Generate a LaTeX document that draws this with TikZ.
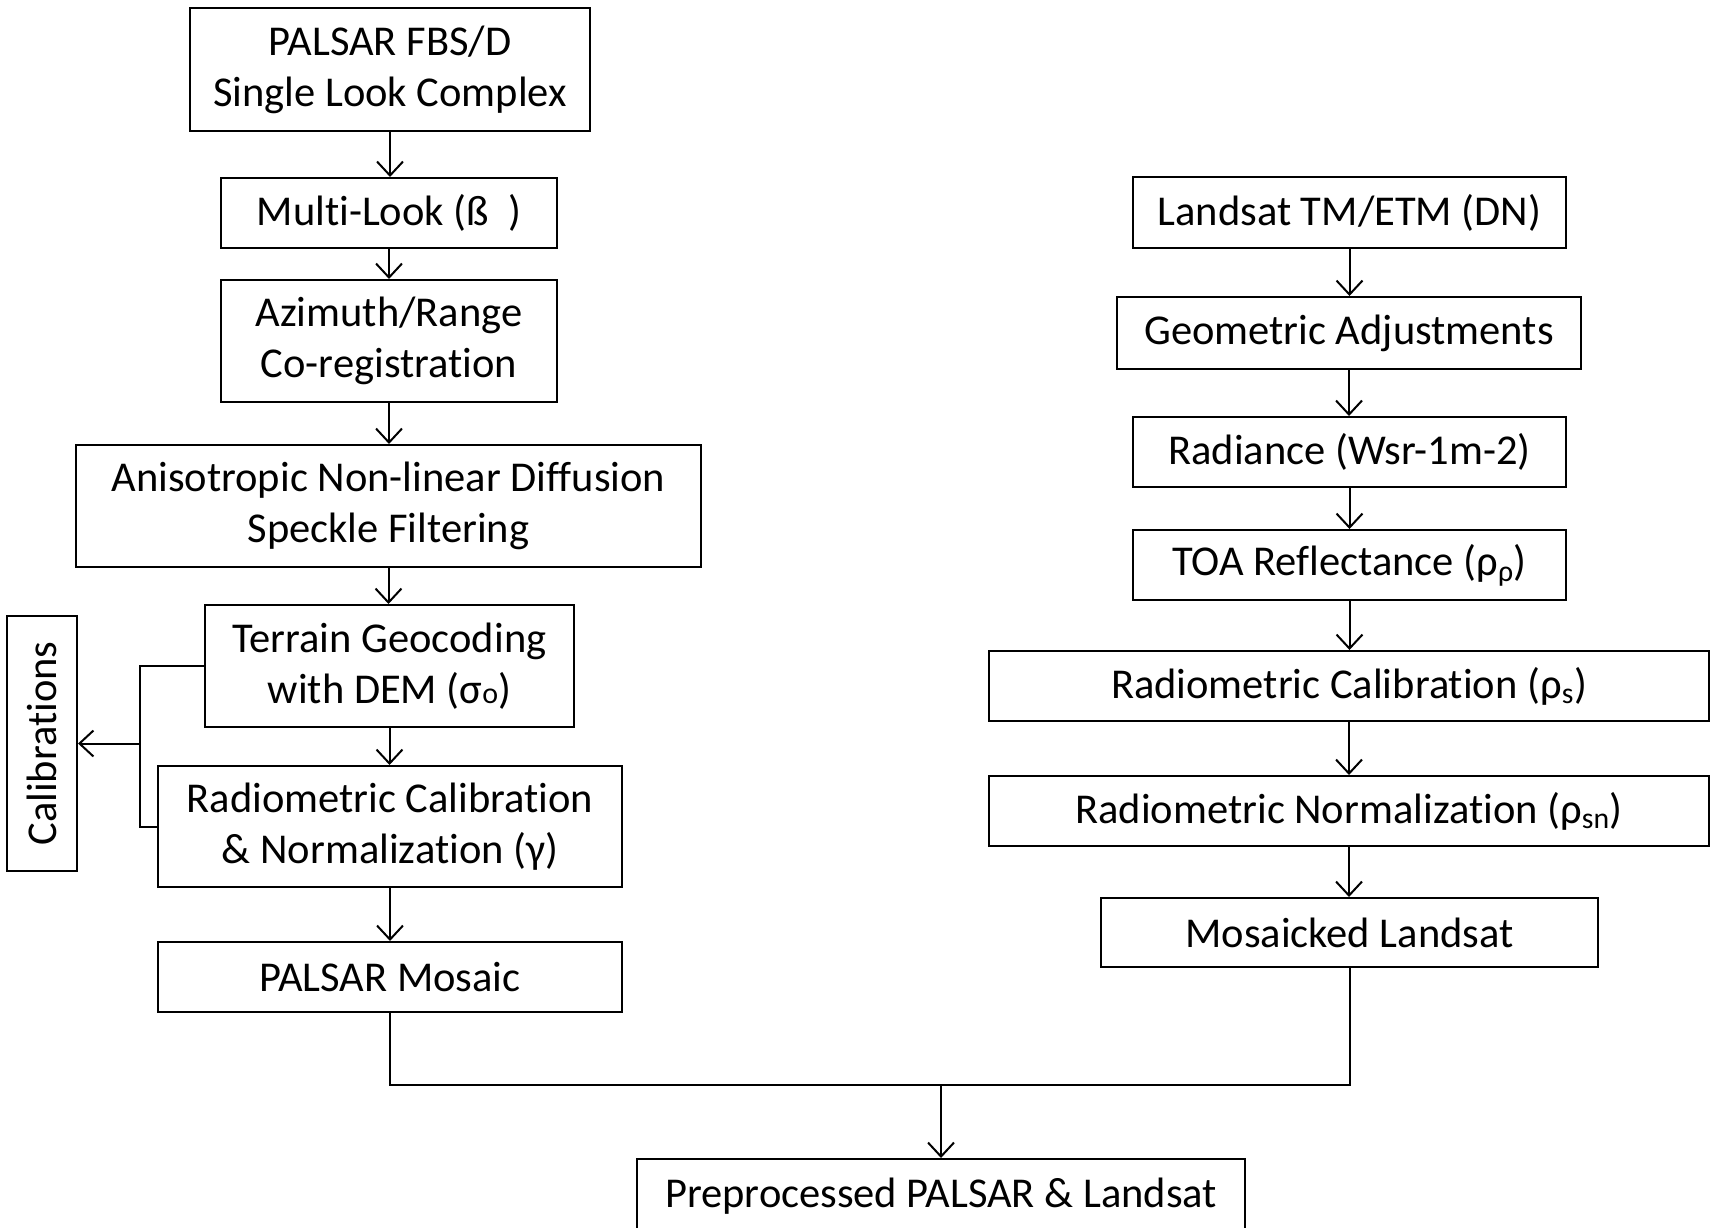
\documentclass[tikz,border=0pt]{standalone}
\usepackage{fontspec}
\setmainfont[Ligatures=NoCommon]{Carlito}
\usetikzlibrary{arrows.meta}
\begin{document}
\begin{tikzpicture}[x=1pt,y=-1pt,
  box/.style={draw, line width=2pt, rectangle, inner sep=0pt, align=center,
    font=\fontsize{42.5}{51}\selectfont},
  conn/.style={line width=2pt},
  arr/.style={line width=2pt, -{Straight Barb[length=14pt,width=26pt,line width=2pt]}}]
\useasboundingbox (0,0) rectangle (1710,1228);
% left column
\node[box, minimum width=400pt, minimum height=123pt] (pal) at (390,69.5) {PALSAR FBS/D\\Single Look Complex};
\node[box, minimum width=336pt, minimum height=70pt] (ml) at (389,213) {Multi-Look (ß\ \ )};
\node[box, minimum width=336pt, minimum height=122pt] (az) at (389,341) {Azimuth/Range\\Co-registration};
\node[box, minimum width=625pt, minimum height=122pt] (an) at (388.5,506) {Anisotropic Non-linear Diffusion\\Speckle Filtering};
\node[box, minimum width=369pt, minimum height=122pt] (tg) at (389.5,666) {Terrain Geocoding\\with DEM (σ{\fontsize{30}{34}\selectfont o})};
\node[box, minimum width=464pt, minimum height=121pt] (rc) at (390,826.5) {Radiometric Calibration\\\& Normalization (γ)};
\node[box, minimum width=464pt, minimum height=70pt] (pm) at (390,977) {PALSAR Mosaic};
\node[box, rotate=90, minimum width=255pt, minimum height=70pt] (cal) at (42,743.5) {Calibrations};
% right column
\node[box, minimum width=433pt, minimum height=71pt] (ls) at (1349.5,212.5) {Landsat TM/ETM (DN)};
\node[box, minimum width=464pt, minimum height=72pt] (ga) at (1349,333) {Geometric Adjustments};
\node[box, minimum width=433pt, minimum height=70pt] (rad) at (1349.5,452) {Radiance (Wsr-1m-2)};
\node[box, minimum width=433pt, minimum height=70pt] (toa) at (1349.5,565) {TOA Reflectance (ρ\textsubscript{ρ})};
\node[box, minimum width=720pt, minimum height=70pt] (rcal) at (1349,686) {Radiometric Calibration (ρ\textsubscript{s})};
\node[box, minimum width=720pt, minimum height=70pt] (rn) at (1349,811) {Radiometric Normalization (ρ\textsubscript{sn})};
\node[box, minimum width=497pt, minimum height=69pt] (mlst) at (1349.5,932.5) {Mosaicked Landsat};
% bottom
\node[box, minimum width=608pt, minimum height=74pt] (pre) at (941,1196) {Preprocessed PALSAR \& Landsat};
% left arrows
\draw[arr] (pal.south) -- (pal.south |- ml.north);
\draw[arr] (ml.south) -- (ml.south |- az.north);
\draw[arr] (az.south) -- (az.south |- an.north);
\draw[arr] (an.south) -- (an.south |- tg.north);
\draw[arr] (tg.south) -- (tg.south |- rc.north);
\draw[arr] (rc.south) -- (rc.south |- pm.north);
% right arrows
\draw[arr] (ls.south) -- (ls.south |- ga.north);
\draw[arr] (ga.south) -- (ga.south |- rad.north);
\draw[arr] (rad.south) -- (rad.south |- toa.north);
\draw[arr] (toa.south) -- (toa.south |- rcal.north);
\draw[arr] (rcal.south) -- (rcal.south |- rn.north);
\draw[arr] (rn.south) -- (rn.south |- mlst.north);
% calibrations bracket
\coordinate (cb) at (140,743.5);
\draw[conn] (tg.west) -| (cb) |- (rc.west);
\draw[arr] (cb) -- (cal.south |- cb);
% merge
\coordinate (m) at (941,1085);
\draw[conn] (pm.south) |- (m) -| (mlst.south);
\draw[arr] (m) -- (pre.north);
\end{tikzpicture}
\end{document}
